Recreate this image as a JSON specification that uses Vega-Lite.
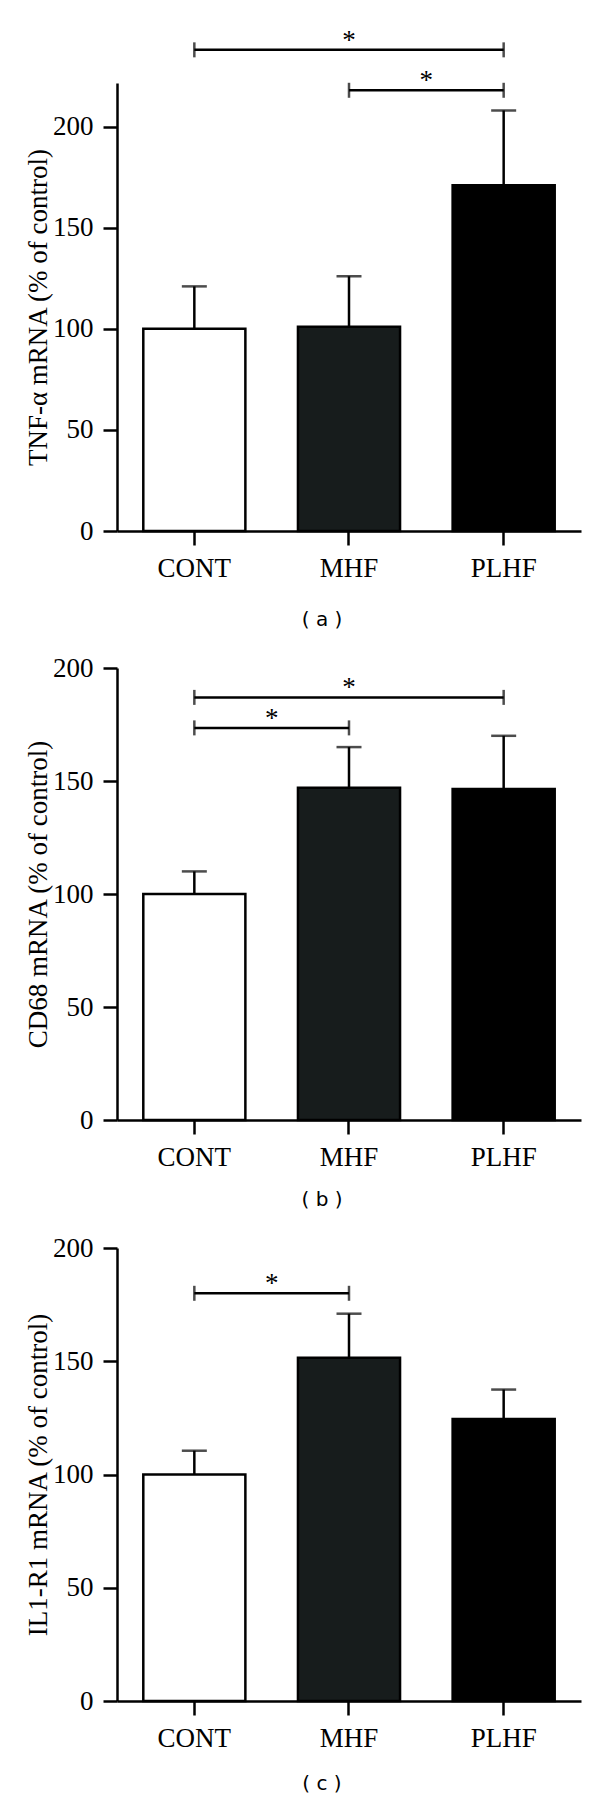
{
  "$schema": "https://vega.github.io/schema/vega-lite/v6.json",
  "background": "white",
  "padding": {"left": 24, "top": 26, "right": 10, "bottom": 0},
  "spacing": 24,
  "datasets": {
    "bars": [
      {"panel": "a", "group": "CONT", "mean": 100, "upper": 121},
      {"panel": "a", "group": "MHF", "mean": 101, "upper": 126},
      {"panel": "a", "group": "PLHF", "mean": 171, "upper": 208},
      {"panel": "b", "group": "CONT", "mean": 100, "upper": 110},
      {"panel": "b", "group": "MHF", "mean": 147, "upper": 165},
      {"panel": "b", "group": "PLHF", "mean": 146.5, "upper": 170},
      {"panel": "c", "group": "CONT", "mean": 100, "upper": 110.5},
      {"panel": "c", "group": "MHF", "mean": 151.5, "upper": 171},
      {"panel": "c", "group": "PLHF", "mean": 124.5, "upper": 137.5}
    ],
    "sig": [
      {"panel": "a", "from": "CONT", "to": "PLHF", "level": 238, "mid": "MHF", "half": false},
      {"panel": "a", "from": "MHF", "to": "PLHF", "level": 218, "mid": "MHF", "half": true},
      {"panel": "b", "from": "CONT", "to": "PLHF", "level": 187, "mid": "MHF", "half": false},
      {"panel": "b", "from": "CONT", "to": "MHF", "level": 173.5, "mid": "CONT", "half": true},
      {"panel": "c", "from": "CONT", "to": "MHF", "level": 180, "mid": "CONT", "half": true}
    ]
  },
  "config": {
    "view": {"stroke": null},
    "font": "Liberation Serif",
    "axis": {
      "domainColor": "black", "domainWidth": 2.5,
      "tickColor": "black", "tickWidth": 2.5, "tickSize": 14,
      "labelColor": "black", "labelFont": "Liberation Serif", "labelFontSize": 27,
      "titleColor": "black", "titleFont": "Liberation Serif", "titleFontSize": 27, "titleFontWeight": "normal",
      "grid": false
    }
  },
  "vconcat": [
    {
      "width": 464, "height": 448,
      "title": {"text": "( a )", "orient": "bottom", "anchor": "middle", "frame": "group", "dx": -27, "offset": 28.5, "font": "DejaVu Sans", "fontSize": 20, "fontWeight": "normal", "color": "black"},
      "layer": [
        {
          "data": {"name": "bars"},
          "transform": [{"filter": "datum.panel === 'a'"}],
          "mark": {"type": "bar", "stroke": "black", "strokeWidth": 2.5},
          "encoding": {
            "x": {"field": "group", "type": "nominal", "title": null, "scale": {"domain": ["CONT", "MHF", "PLHF"], "paddingInner": 0.34, "paddingOuter": 0.17}, "axis": {"labelAngle": 0, "labelPadding": 10}},
            "y": {"field": "mean", "type": "quantitative", "title": "TNF-α mRNA (% of control)", "scale": {"domain": [0, 221.6], "nice": false}, "axis": {"values": [0, 50, 100, 150, 200], "labelPadding": 10, "titlePadding": 0}},
            "color": {"field": "group", "type": "nominal", "scale": {"domain": ["CONT", "MHF", "PLHF"], "range": ["#ffffff", "#171c1c", "#000000"]}, "legend": null}
          }
        },
        {
          "data": {"name": "bars"},
          "transform": [{"filter": "datum.panel === 'a'"}],
          "mark": {"type": "rule", "color": "black", "strokeWidth": 2.5},
          "encoding": {
            "x": {"field": "group", "type": "nominal", "title": null},
            "y": {"field": "mean", "type": "quantitative", "title": "TNF-α mRNA (% of control)"},
            "y2": {"field": "upper"}
          }
        },
        {
          "data": {"name": "bars"},
          "transform": [{"filter": "datum.panel === 'a'"}],
          "mark": {"type": "tick", "orient": "horizontal", "color": "black", "size": 25, "thickness": 2.5},
          "encoding": {
            "x": {"field": "group", "type": "nominal", "title": null},
            "y": {"field": "upper", "type": "quantitative", "title": "TNF-α mRNA (% of control)"}
          }
        },
        {
          "data": {"name": "sig"},
          "transform": [{"filter": "datum.panel === 'a'"}],
          "mark": {"type": "rule", "color": "black", "strokeWidth": 2.5},
          "encoding": {
            "x": {"field": "from", "type": "nominal", "title": null},
            "x2": {"field": "to"},
            "y": {"field": "level", "type": "quantitative", "title": "TNF-α mRNA (% of control)"}
          }
        },
        {
          "data": {"name": "sig"},
          "transform": [{"filter": "datum.panel === 'a'"}, {"fold": ["from", "to"], "as": ["end", "cat"]}],
          "mark": {"type": "tick", "orient": "vertical", "color": "black", "size": 15, "thickness": 2.5},
          "encoding": {
            "x": {"field": "cat", "type": "nominal", "title": null},
            "y": {"field": "level", "type": "quantitative", "title": "TNF-α mRNA (% of control)"}
          }
        },
        {
          "data": {"name": "sig"},
          "transform": [{"filter": "datum.panel === 'a' && !datum.half"}],
          "mark": {"type": "text", "text": "*", "font": "Liberation Serif", "fontSize": 27, "baseline": "alphabetic", "dy": -1, "color": "black"},
          "encoding": {
            "x": {"field": "mid", "type": "nominal", "title": null},
            "y": {"field": "level", "type": "quantitative", "title": "TNF-α mRNA (% of control)"}
          }
        },
        {
          "data": {"name": "sig"},
          "transform": [{"filter": "datum.panel === 'a' && datum.half"}],
          "mark": {"type": "text", "text": "*", "font": "Liberation Serif", "fontSize": 27, "baseline": "alphabetic", "dy": -1, "color": "black"},
          "encoding": {
            "x": {"field": "mid", "type": "nominal", "bandPosition": 1.2576, "title": null},
            "y": {"field": "level", "type": "quantitative", "title": "TNF-α mRNA (% of control)"}
          }
        }
      ]
    },
    {
      "width": 464, "height": 452,
      "title": {"text": "( b )", "orient": "bottom", "anchor": "middle", "frame": "group", "dx": -27, "offset": 19.5, "font": "DejaVu Sans", "fontSize": 20, "fontWeight": "normal", "color": "black"},
      "layer": [
        {
          "data": {"name": "bars"},
          "transform": [{"filter": "datum.panel === 'b'"}],
          "mark": {"type": "bar", "stroke": "black", "strokeWidth": 2.5},
          "encoding": {
            "x": {"field": "group", "type": "nominal", "title": null, "scale": {"domain": ["CONT", "MHF", "PLHF"], "paddingInner": 0.34, "paddingOuter": 0.17}, "axis": {"labelAngle": 0, "labelPadding": 10}},
            "y": {"field": "mean", "type": "quantitative", "title": "CD68 mRNA (% of control)", "scale": {"domain": [0, 200], "nice": false}, "axis": {"values": [0, 50, 100, 150, 200], "labelPadding": 10, "titlePadding": 0}},
            "color": {"field": "group", "type": "nominal", "scale": {"domain": ["CONT", "MHF", "PLHF"], "range": ["#ffffff", "#171c1c", "#000000"]}, "legend": null}
          }
        },
        {
          "data": {"name": "bars"},
          "transform": [{"filter": "datum.panel === 'b'"}],
          "mark": {"type": "rule", "color": "black", "strokeWidth": 2.5},
          "encoding": {
            "x": {"field": "group", "type": "nominal", "title": null},
            "y": {"field": "mean", "type": "quantitative", "title": "CD68 mRNA (% of control)"},
            "y2": {"field": "upper"}
          }
        },
        {
          "data": {"name": "bars"},
          "transform": [{"filter": "datum.panel === 'b'"}],
          "mark": {"type": "tick", "orient": "horizontal", "color": "black", "size": 25, "thickness": 2.5},
          "encoding": {
            "x": {"field": "group", "type": "nominal", "title": null},
            "y": {"field": "upper", "type": "quantitative", "title": "CD68 mRNA (% of control)"}
          }
        },
        {
          "data": {"name": "sig"},
          "transform": [{"filter": "datum.panel === 'b'"}],
          "mark": {"type": "rule", "color": "black", "strokeWidth": 2.5},
          "encoding": {
            "x": {"field": "from", "type": "nominal", "title": null},
            "x2": {"field": "to"},
            "y": {"field": "level", "type": "quantitative", "title": "CD68 mRNA (% of control)"}
          }
        },
        {
          "data": {"name": "sig"},
          "transform": [{"filter": "datum.panel === 'b'"}, {"fold": ["from", "to"], "as": ["end", "cat"]}],
          "mark": {"type": "tick", "orient": "vertical", "color": "black", "size": 15, "thickness": 2.5},
          "encoding": {
            "x": {"field": "cat", "type": "nominal", "title": null},
            "y": {"field": "level", "type": "quantitative", "title": "CD68 mRNA (% of control)"}
          }
        },
        {
          "data": {"name": "sig"},
          "transform": [{"filter": "datum.panel === 'b' && !datum.half"}],
          "mark": {"type": "text", "text": "*", "font": "Liberation Serif", "fontSize": 27, "baseline": "alphabetic", "dy": -1, "color": "black"},
          "encoding": {
            "x": {"field": "mid", "type": "nominal", "title": null},
            "y": {"field": "level", "type": "quantitative", "title": "CD68 mRNA (% of control)"}
          }
        },
        {
          "data": {"name": "sig"},
          "transform": [{"filter": "datum.panel === 'b' && datum.half"}],
          "mark": {"type": "text", "text": "*", "font": "Liberation Serif", "fontSize": 27, "baseline": "alphabetic", "dy": -1, "color": "black"},
          "encoding": {
            "x": {"field": "mid", "type": "nominal", "bandPosition": 1.2576, "title": null},
            "y": {"field": "level", "type": "quantitative", "title": "CD68 mRNA (% of control)"}
          }
        }
      ]
    },
    {
      "width": 464, "height": 453,
      "title": {"text": "( c )", "orient": "bottom", "anchor": "middle", "frame": "group", "dx": -27, "offset": 22.5, "font": "DejaVu Sans", "fontSize": 20, "fontWeight": "normal", "color": "black"},
      "layer": [
        {
          "data": {"name": "bars"},
          "transform": [{"filter": "datum.panel === 'c'"}],
          "mark": {"type": "bar", "stroke": "black", "strokeWidth": 2.5},
          "encoding": {
            "x": {"field": "group", "type": "nominal", "title": null, "scale": {"domain": ["CONT", "MHF", "PLHF"], "paddingInner": 0.34, "paddingOuter": 0.17}, "axis": {"labelAngle": 0, "labelPadding": 10}},
            "y": {"field": "mean", "type": "quantitative", "title": "IL1-R1 mRNA (% of control)", "scale": {"domain": [0, 200], "nice": false}, "axis": {"values": [0, 50, 100, 150, 200], "labelPadding": 10, "titlePadding": 0}},
            "color": {"field": "group", "type": "nominal", "scale": {"domain": ["CONT", "MHF", "PLHF"], "range": ["#ffffff", "#171c1c", "#000000"]}, "legend": null}
          }
        },
        {
          "data": {"name": "bars"},
          "transform": [{"filter": "datum.panel === 'c'"}],
          "mark": {"type": "rule", "color": "black", "strokeWidth": 2.5},
          "encoding": {
            "x": {"field": "group", "type": "nominal", "title": null},
            "y": {"field": "mean", "type": "quantitative", "title": "IL1-R1 mRNA (% of control)"},
            "y2": {"field": "upper"}
          }
        },
        {
          "data": {"name": "bars"},
          "transform": [{"filter": "datum.panel === 'c'"}],
          "mark": {"type": "tick", "orient": "horizontal", "color": "black", "size": 25, "thickness": 2.5},
          "encoding": {
            "x": {"field": "group", "type": "nominal", "title": null},
            "y": {"field": "upper", "type": "quantitative", "title": "IL1-R1 mRNA (% of control)"}
          }
        },
        {
          "data": {"name": "sig"},
          "transform": [{"filter": "datum.panel === 'c'"}],
          "mark": {"type": "rule", "color": "black", "strokeWidth": 2.5},
          "encoding": {
            "x": {"field": "from", "type": "nominal", "title": null},
            "x2": {"field": "to"},
            "y": {"field": "level", "type": "quantitative", "title": "IL1-R1 mRNA (% of control)"}
          }
        },
        {
          "data": {"name": "sig"},
          "transform": [{"filter": "datum.panel === 'c'"}, {"fold": ["from", "to"], "as": ["end", "cat"]}],
          "mark": {"type": "tick", "orient": "vertical", "color": "black", "size": 15, "thickness": 2.5},
          "encoding": {
            "x": {"field": "cat", "type": "nominal", "title": null},
            "y": {"field": "level", "type": "quantitative", "title": "IL1-R1 mRNA (% of control)"}
          }
        },
        {
          "data": {"name": "sig"},
          "transform": [{"filter": "datum.panel === 'c' && datum.half"}],
          "mark": {"type": "text", "text": "*", "font": "Liberation Serif", "fontSize": 27, "baseline": "alphabetic", "dy": -1, "color": "black"},
          "encoding": {
            "x": {"field": "mid", "type": "nominal", "bandPosition": 1.2576, "title": null},
            "y": {"field": "level", "type": "quantitative", "title": "IL1-R1 mRNA (% of control)"}
          }
        }
      ]
    }
  ]
}
